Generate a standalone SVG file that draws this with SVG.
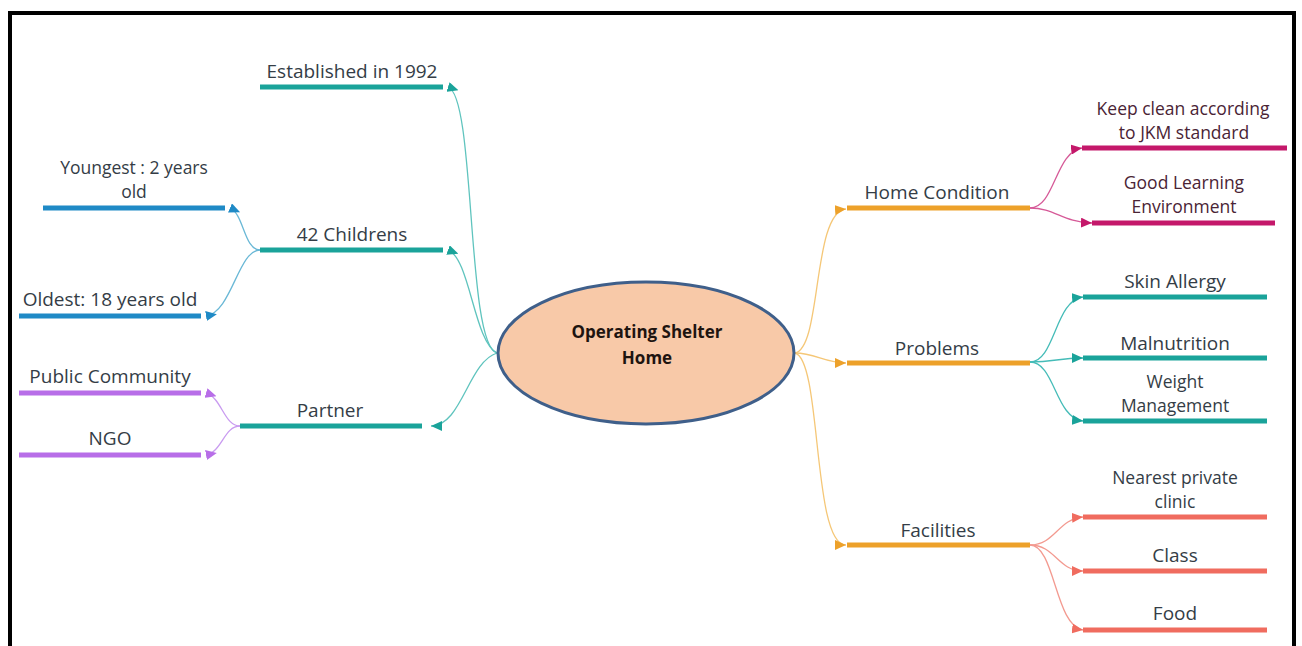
<svg xmlns="http://www.w3.org/2000/svg" width="1302" height="646" viewBox="0 0 1302 646">
<style>
text{font-family:"Open Sans","Noto Sans","DejaVu Sans",sans-serif;font-size:19px;fill:#343d46;text-anchor:middle}
text.ml{font-size:17.5px}
.t-crim{fill:#4a2435}
.root{font-weight:bold;font-size:17px;fill:#1e1410}
.bar{stroke-width:5;stroke-linecap:butt;fill:none}
.c{fill:none;stroke-width:1.3}
.teal{stroke:#1aa39a}.blue{stroke:#1f8ac6}.purple{stroke:#b86ee8}.orange{stroke:#eda12a}.crimson{stroke:#c4186a}.coral{stroke:#f06c5f}
</style>
<defs>
<marker id="aTeal" markerUnits="userSpaceOnUse" markerWidth="11" markerHeight="10" viewBox="0 0 11 10" refX="11" refY="5" orient="auto"><path d="M0,0 L11,5 L0,10 z" fill="#1aa39a"/></marker>
<marker id="bTeal" markerUnits="userSpaceOnUse" markerWidth="11" markerHeight="10" viewBox="0 0 11 10" refX="11" refY="5" orient="auto"><path d="M11,0 L0,5 L11,10 z" fill="#1aa39a"/></marker>
<marker id="bBlue" markerUnits="userSpaceOnUse" markerWidth="11" markerHeight="10" viewBox="0 0 11 10" refX="11" refY="5" orient="auto"><path d="M11,0 L0,5 L11,10 z" fill="#1f8ac6"/></marker>
<marker id="bPurple" markerUnits="userSpaceOnUse" markerWidth="11" markerHeight="10" viewBox="0 0 11 10" refX="11" refY="5" orient="auto"><path d="M11,0 L0,5 L11,10 z" fill="#b86ee8"/></marker>
<marker id="aOrange" markerUnits="userSpaceOnUse" markerWidth="11" markerHeight="10" viewBox="0 0 11 10" refX="11" refY="5" orient="auto"><path d="M0,0 L11,5 L0,10 z" fill="#eda12a"/></marker>
<marker id="aCrimson" markerUnits="userSpaceOnUse" markerWidth="11" markerHeight="10" viewBox="0 0 11 10" refX="11" refY="5" orient="auto"><path d="M0,0 L11,5 L0,10 z" fill="#c4186a"/></marker>
<marker id="aCoral" markerUnits="userSpaceOnUse" markerWidth="11" markerHeight="10" viewBox="0 0 11 10" refX="11" refY="5" orient="auto"><path d="M0,0 L11,5 L0,10 z" fill="#f06c5f"/></marker>
</defs>
<rect width="1302" height="646" fill="#ffffff"/>
<path d="M10,646 V13 H1294 V646" fill="none" stroke="#000" stroke-width="4"/>

<g id="connectors">
<path class="c" stroke="#5fc4be" d="M497,353 C466,345 476,96 448,87" marker-end="url(#bTeal)"/>
<path class="c" stroke="#5fc4be" d="M497,353 C474,342 470,258 448,250" marker-end="url(#bTeal)"/>
<path class="c" stroke="#5fc4be" d="M497,353 C468,362 462,426 431,426" marker-end="url(#aTeal)"/>
<path class="c" stroke="#6ab8d6" d="M260,250 C244,250 244,214 230,208" marker-end="url(#bBlue)"/>
<path class="c" stroke="#6ab8d6" d="M260,250 C238,250 232,312 206,316" marker-end="url(#bBlue)"/>
<path class="c" stroke="#c99bf0" d="M240,426 C224,426 222,398 206,393" marker-end="url(#bPurple)"/>
<path class="c" stroke="#c99bf0" d="M240,426 C224,426 222,452 206,455" marker-end="url(#bPurple)"/>
<path class="c" stroke="#f5c777" d="M795,353 C822,348 812,212 846,209" marker-end="url(#aOrange)"/>
<path class="c" stroke="#f5c777" d="M795,353 C815,353 825,363 846,363" marker-end="url(#aOrange)"/>
<path class="c" stroke="#f5c777" d="M795,353 C822,360 812,545 846,545" marker-end="url(#aOrange)"/>
<path class="c" stroke="#d65a98" d="M1030,208 C1055,208 1055,152 1082,148" marker-end="url(#aCrimson)"/>
<path class="c" stroke="#d65a98" d="M1030,208 C1055,208 1062,222 1092,223" marker-end="url(#aCrimson)"/>
<path class="c" stroke="#45bcb8" d="M1030,362 C1055,362 1055,300 1083,297" marker-end="url(#aTeal)"/>
<path class="c" stroke="#45bcb8" d="M1030,362 C1055,362 1058,358 1083,358" marker-end="url(#aTeal)"/>
<path class="c" stroke="#45bcb8" d="M1030,362 C1055,362 1055,418 1083,421" marker-end="url(#aTeal)"/>
<path class="c" stroke="#f39a90" d="M1030,545 C1055,545 1058,519 1083,517" marker-end="url(#aCoral)"/>
<path class="c" stroke="#f39a90" d="M1030,545 C1055,545 1058,571 1083,571" marker-end="url(#aCoral)"/>
<path class="c" stroke="#f39a90" d="M1030,545 C1055,545 1055,626 1083,630" marker-end="url(#aCoral)"/>
</g>

<g id="root">
<ellipse cx="646" cy="353" rx="148" ry="71" fill="#f8c9a8" stroke="#3f5f8a" stroke-width="3"/>
<text class="root" x="647" y="338">Operating Shelter<tspan x="647" dy="26">Home</tspan></text>
</g>

<g id="established"><line class="bar teal" x1="260" y1="87" x2="443" y2="87"/><text x="352" y="78">Established in 1992</text></g>
<g id="childrens"><line class="bar teal" x1="260" y1="250" x2="443" y2="250"/><text x="352" y="241">42 Childrens</text></g>
<g id="youngest"><line class="bar blue" x1="43" y1="208" x2="225" y2="208"/><text class="ml" x="134" y="174">Youngest : 2 years<tspan x="134" dy="24">old</tspan></text></g>
<g id="oldest"><line class="bar blue" x1="19" y1="316" x2="201" y2="316"/><text x="110" y="306">Oldest: 18 years old</text></g>
<g id="partner"><line class="bar teal" x1="240" y1="426" x2="422" y2="426"/><text x="330" y="417">Partner</text></g>
<g id="public"><line class="bar purple" x1="19" y1="393" x2="201" y2="393"/><text x="110" y="383">Public Community</text></g>
<g id="ngo"><line class="bar purple" x1="19" y1="455" x2="201" y2="455"/><text x="110" y="445">NGO</text></g>

<g id="home-condition"><line class="bar orange" x1="847" y1="208" x2="1030" y2="208"/><text x="937" y="199">Home Condition</text></g>
<g id="problems"><line class="bar orange" x1="847" y1="363" x2="1030" y2="363"/><text x="937" y="355">Problems</text></g>
<g id="facilities"><line class="bar orange" x1="847" y1="545" x2="1030" y2="545"/><text x="938" y="537">Facilities</text></g>

<g id="keep-clean"><line class="bar crimson" x1="1082" y1="148" x2="1287" y2="148"/><text class="ml t-crim" x="1183" y="115">Keep clean according<tspan x="1184" dy="24">to JKM standard</tspan></text></g>
<g id="good-learning"><line class="bar crimson" x1="1092" y1="223" x2="1275" y2="223"/><text class="ml t-crim" x="1184" y="189">Good Learning<tspan x="1184" dy="24">Environment</tspan></text></g>
<g id="skin-allergy"><line class="bar teal" x1="1083" y1="297" x2="1267" y2="297"/><text x="1175" y="288">Skin Allergy</text></g>
<g id="malnutrition"><line class="bar teal" x1="1083" y1="358" x2="1267" y2="358"/><text x="1175" y="350">Malnutrition</text></g>
<g id="weight"><line class="bar teal" x1="1083" y1="421" x2="1267" y2="421"/><text class="ml" x="1175" y="388">Weight<tspan x="1175" dy="24">Management</tspan></text></g>
<g id="clinic"><line class="bar coral" x1="1083" y1="517" x2="1267" y2="517"/><text class="ml" x="1175" y="484">Nearest private<tspan x="1175" dy="24">clinic</tspan></text></g>
<g id="class"><line class="bar coral" x1="1083" y1="571" x2="1267" y2="571"/><text x="1175" y="562">Class</text></g>
<g id="food"><line class="bar coral" x1="1083" y1="630" x2="1267" y2="630"/><text x="1175" y="620">Food</text></g>
</svg>
